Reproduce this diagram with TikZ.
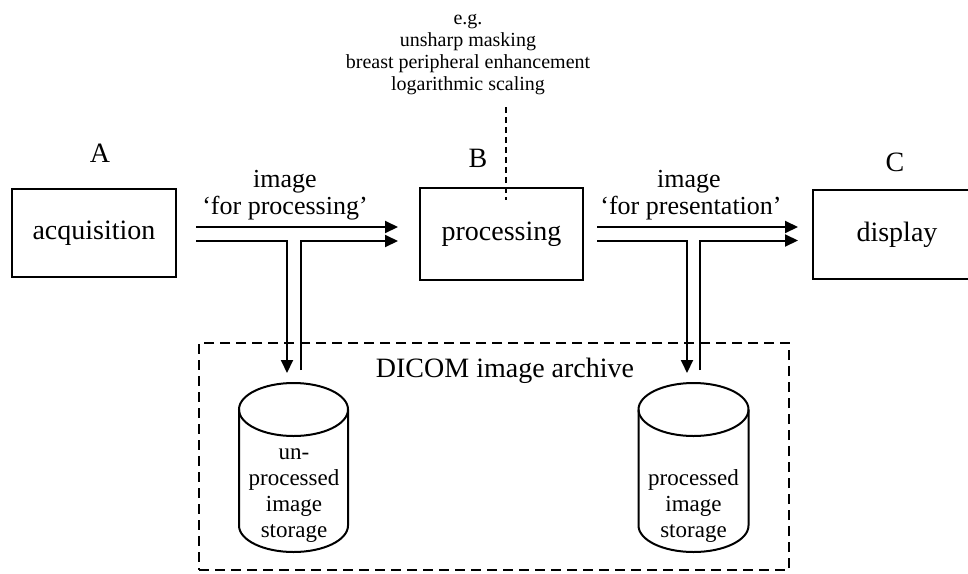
\documentclass[tikz,border=0pt]{standalone}
\usepackage{fontspec}
\setmainfont{Liberation Serif}
\usetikzlibrary{arrows.meta}
\begin{document}
\begin{tikzpicture}[x=1pt,y=-1pt,
  box/.style={draw,line width=2pt,inner sep=0pt,font=\fontsize{28}{32}\selectfont},
  biglbl/.style={inner sep=0pt,font=\fontsize{28}{32}\selectfont},
  arrlbl/.style={inner sep=0pt,anchor=base,font=\fontsize{26}{28}\selectfont},
  note/.style={inner sep=0pt,align=center,anchor=base,font=\fontsize{20}{21.7}\selectfont},
  cyltxt/.style={inner sep=0pt,align=center,anchor=base,font=\fontsize{23}{25.7}\selectfont},
  cyl/.style={line width=2pt},
  arr/.style={line width=2pt,line join=miter,-{Triangle[length=13pt,width=12pt]}},
  archbox/.style={draw,line width=2pt,dash pattern=on 10pt off 6pt,inner sep=0pt},
  notedash/.style={line width=1.5pt,dash pattern=on 6pt off 4pt}]
\useasboundingbox (0,0) rectangle (968,573);
\clip (0,0) rectangle (968,573);

% boxes
\node[box,minimum width=164pt,minimum height=88pt] (acq) at (94,233) {acquisition};
\node[box,minimum width=163pt,minimum height=92pt] (proc) at (501.5,234) {processing};
\node[box,minimum width=168pt,minimum height=89pt] (disp) at (897,234.5) {display};

% letters
\node[biglbl] (la) at (100,153) {A};
\node[biglbl] (lb) at (478,158) {B};
\node[biglbl] (lc) at (895,162) {C};

% arrow labels
\node[arrlbl] (l1a) at (285,187) {image};
\node[arrlbl] (l1b) at (285,214) {‘for processing’};
\node[arrlbl] (l2a) at (689,187) {image};
\node[arrlbl] (l2b) at (691,214) {‘for presentation’};

% note (base anchor = last line baseline)
\node[note] (note) at (468,90) {e.g.\\unsharp masking\\breast peripheral enhancement\\logarithmic scaling};
\coordinate (nd1) at (506,107);
\coordinate (nd2) at (506,200);
\draw[notedash] (nd1) -- (nd2);

% archive
\node[archbox,minimum width=590pt,minimum height=227pt] (arch) at (494,456.5) {};
\node[biglbl,anchor=base] (archlbl) at (505,377) {DICOM image archive};

% cylinders
\draw[cyl] (293.5,409.5) ellipse [x radius=54.5, y radius=26.5];
\draw[cyl] (239,409.5) -- (239,525.5) .. controls (239,540.14) and (263.4,552) .. (293.5,552)
  .. controls (323.6,552) and (348,540.14) .. (348,525.5) -- (348,409.5);
\node[cyltxt] (c1) at (294,537) {un-\\processed\\image\\storage};

\draw[cyl] (693.5,409.5) ellipse [x radius=55, y radius=26.5];
\draw[cyl] (638.5,409.5) -- (638.5,525.5) .. controls (638.5,540.14) and (663.1,552) .. (693.5,552)
  .. controls (723.9,552) and (748.5,540.14) .. (748.5,525.5) -- (748.5,409.5);
\node[cyltxt] (c2) at (693.5,537) {processed\\image\\storage};

% connector points
\coordinate (a1s) at (196,227);  \coordinate (a1e) at (398,227);
\coordinate (b1s) at (196,241);  \coordinate (b1k) at (287,241); \coordinate (b1e) at (287,373);
\coordinate (c1s) at (301,370);  \coordinate (c1k) at (301,241); \coordinate (c1e) at (398,241);
\coordinate (a2s) at (597,227);  \coordinate (a2e) at (798,227);
\coordinate (b2s) at (597,240.5); \coordinate (b2k) at (687,240.5); \coordinate (b2e) at (687,373);
\coordinate (c2s) at (700,370);  \coordinate (c2k) at (700,240.5); \coordinate (c2e) at (798,240.5);

\draw[arr] (a1s) -- (a1e);
\draw[arr] (b1s) -- (b1k) -- (b1e);
\draw[arr] (c1s) -- (c1k) -- (c1e);
\draw[arr] (a2s) -- (a2e);
\draw[arr] (b2s) -- (b2k) -- (b2e);
\draw[arr] (c2s) -- (c2k) -- (c2e);
\end{tikzpicture}
\end{document}
